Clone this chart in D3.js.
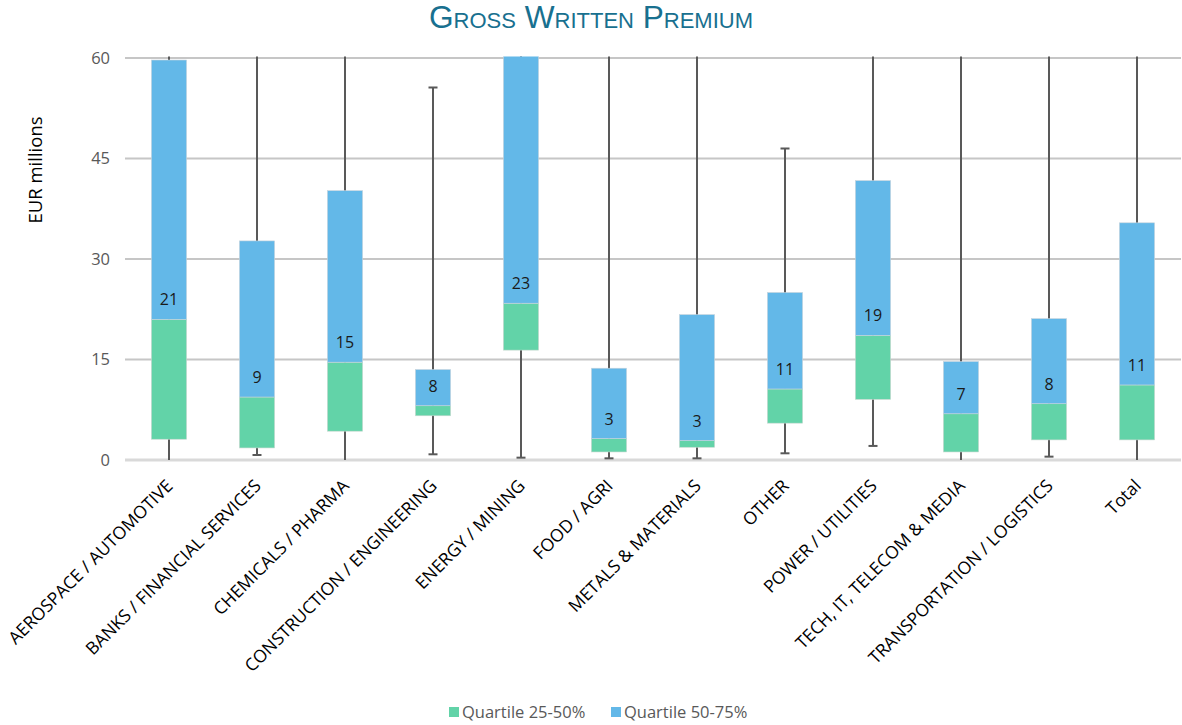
<!DOCTYPE html>
<html>
<head>
<meta charset="utf-8">
<script src="https://cdn.jsdelivr.net/npm/d3@7/dist/d3.min.js"></script>
<style>
  html, body { margin: 0; padding: 0; background: #fff; }
  svg { display: block; }
</style>
</head>
<body>
<svg id="chart" width="1182" height="725"></svg>
<script>
// ---- Data (EUR millions) ----
const categories = [
  "AEROSPACE / AUTOMOTIVE", "BANKS / FINANCIAL SERVICES", "CHEMICALS / PHARMA",
  "CONSTRUCTION / ENGINEERING", "ENERGY / MINING", "FOOD / AGRI",
  "METALS & MATERIALS", "OTHER", "POWER / UTILITIES",
  "TECH, IT, TELECOM & MEDIA", "TRANSPORTATION / LOGISTICS", "Total"
];
const whiskerMin = [-1, 0.75, -1, 0.85, 0.35, 0.25, 0.25, 1.0, 2.1, -1, 0.5, -1];
const quartile25 = [3.1, 1.8, 4.3, 6.6, 16.4, 1.2, 1.9, 5.5, 9.05, 1.2, 3.0, 3.0];
const median     = [21.0, 9.4, 14.6, 8.1, 23.4, 3.2, 2.9, 10.6, 18.6, 6.9, 8.4, 11.2];
const quartile75 = [59.7, 32.7, 40.2, 13.5, 65, 13.7, 21.7, 25.0, 41.7, 14.7, 21.1, 35.4];
const whiskerMax = [75, 75, 75, 55.6, 90, 75, 75, 46.5, 75, 75, 75, 75];
const medianLabels = ["21", "9", "15", "8", "23", "3", "3", "11", "19", "7", "8", "11"];
const yTicks = [0, 15, 30, 45, 60];
const seriesNames = ["Quartile 25-50%", "Quartile 50-75%"];
const seriesColors = ["#62D3A8", "#63B8E8"];

// ---- Layout ----
const svg = d3.select("#chart");
const plotLeft = 125, plotRight = 1181, plotTop = 58, plotBottom = 460;
const font = "'Open Sans', sans-serif";

const x = d3.scaleBand().domain(categories).range([plotLeft, plotRight])
  .paddingInner(0.6).paddingOuter(0.3);
const y = d3.scaleLinear().domain([0, 60]).range([plotBottom, plotTop]);

// Title
svg.append("text")
  .attr("x", 591).attr("y", 28)
  .attr("text-anchor", "middle")
  .attr("font-family", "'Liberation Sans', Arial, sans-serif")
  .attr("font-size", 31.6)
  .style("font-variant", "small-caps")
  .attr("fill", "#18708F")
  .text("Gross Written Premium");

// Gridlines
svg.append("g").selectAll("line").data(yTicks).join("line")
  .attr("x1", plotLeft).attr("x2", plotRight)
  .attr("y1", d => y(d)).attr("y2", d => y(d))
  .attr("stroke", d => d === 0 ? "#d9d9d9" : "#c6c6c6")
  .attr("stroke-width", d => d === 0 ? 3 : 2);

// Y axis labels
const yAxis = d3.axisLeft(y).tickValues(yTicks).tickSize(0).tickPadding(15);
const gy = svg.append("g").attr("transform", `translate(${plotLeft},0)`).call(yAxis);
gy.select(".domain").remove();
gy.selectAll("text").attr("font-family", font).attr("font-size", 16.5).attr("fill", "#595959");

// Y axis title
svg.append("text")
  .attr("transform", "translate(42,170) rotate(-90)")
  .attr("text-anchor", "middle")
  .attr("font-family", font).attr("font-size", 18.5).attr("fill", "#000")
  .text("EUR millions");

// Clip
svg.append("defs").append("clipPath").attr("id", "plotclip")
  .append("rect").attr("x", plotLeft).attr("y", plotTop - 1.5)
  .attr("width", plotRight - plotLeft).attr("height", plotBottom - plotTop + 1.5);

const g = svg.append("g").attr("clip-path", "url(#plotclip)");
const idx = d3.range(categories.length);
const cx = i => x(categories[i]) + x.bandwidth() / 2;
const capW = 9;

// Whiskers
g.selectAll(".wh").data(idx).join("line")
  .attr("x1", cx).attr("x2", cx)
  .attr("y1", i => y(whiskerMin[i])).attr("y2", i => y(whiskerMax[i]))
  .attr("stroke", "#595959").attr("stroke-width", 2);
g.selectAll(".capLo").data(idx).join("line")
  .attr("x1", i => cx(i) - capW / 2).attr("x2", i => cx(i) + capW / 2)
  .attr("y1", i => y(whiskerMin[i])).attr("y2", i => y(whiskerMin[i]))
  .attr("stroke", "#595959").attr("stroke-width", 2);
g.selectAll(".capHi").data(idx).join("line")
  .attr("x1", i => cx(i) - capW / 2).attr("x2", i => cx(i) + capW / 2)
  .attr("y1", i => y(whiskerMax[i])).attr("y2", i => y(whiskerMax[i]))
  .attr("stroke", "#595959").attr("stroke-width", 2);

// Boxes: lower (Q1->median) and upper (median->Q3)
g.selectAll(".lo").data(idx).join("rect")
  .attr("x", i => x(categories[i])).attr("width", x.bandwidth())
  .attr("y", i => y(median[i])).attr("height", i => y(quartile25[i]) - y(median[i]))
  .attr("fill", seriesColors[0]).attr("stroke", "#c8d8d0").attr("stroke-width", 0.6);
g.selectAll(".hi").data(idx).join("rect")
  .attr("x", i => x(categories[i])).attr("width", x.bandwidth())
  .attr("y", i => y(quartile75[i])).attr("height", i => y(median[i]) - y(quartile75[i]))
  .attr("fill", seriesColors[1]).attr("stroke", "#c8d4dc").attr("stroke-width", 0.6);

// Median labels
svg.append("g").selectAll("text").data(idx).join("text")
  .attr("x", cx).attr("y", i => y(median[i]) - 14)
  .attr("text-anchor", "middle")
  .attr("font-family", font).attr("font-size", 16).attr("fill", "#1a1a1a")
  .text(i => medianLabels[i]);

// X labels rotated
svg.append("g").selectAll("text").data(categories).join("text")
  .attr("transform", d => `translate(${x(d) + x.bandwidth() / 2 + 5},${plotBottom + 27}) rotate(-45)`)
  .attr("text-anchor", "end")
  .attr("font-family", font).attr("font-size", 17.5).attr("fill", "#000")
  .text(d => d);

// Legend
const legendItems = [{ x: 449 }, { x: 611 }];
const lg = svg.append("g");
seriesNames.forEach((name, k) => {
  lg.append("rect").attr("x", legendItems[k].x).attr("y", 707)
    .attr("width", 10).attr("height", 10).attr("fill", seriesColors[k]);
  lg.append("text").attr("x", legendItems[k].x + 13).attr("y", 718)
    .attr("font-family", font).attr("font-size", 16.5).attr("fill", "#595959")
    .text(name);
});
</script>
</body>
</html>
